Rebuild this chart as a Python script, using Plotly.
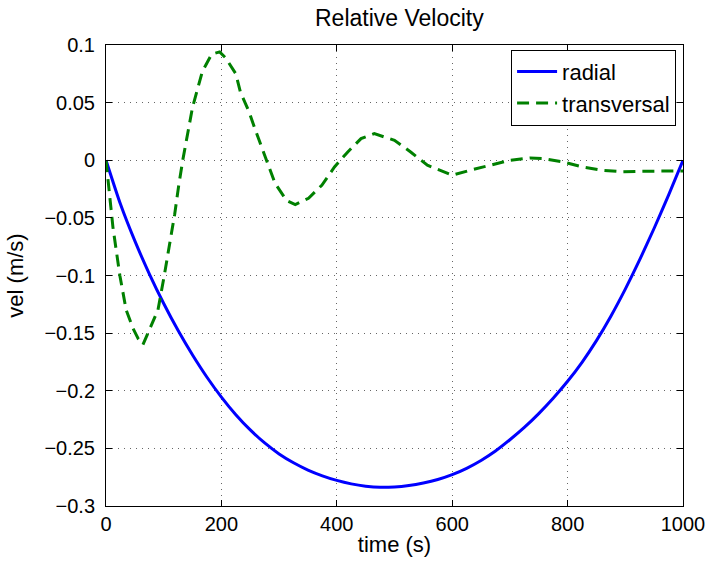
import plotly.graph_objects as go

# ---- data ----
radial_t = [0, 25, 50, 75, 100, 125, 150, 175, 200, 225, 250, 275, 300, 325, 350, 375,
            400, 425, 450, 475, 500, 525, 550, 575, 600, 625, 650, 675, 700, 725, 750,
            775, 800, 825, 850, 875, 900, 925, 950, 975, 1000]
radial_v = [0, -0.038, -0.070, -0.0985, -0.1243, -0.1478, -0.1690, -0.1883, -0.2055,
            -0.2208, -0.2340, -0.2453, -0.2548, -0.2625, -0.2688, -0.2738, -0.2778,
            -0.2808, -0.2828, -0.2838, -0.2835, -0.2822, -0.2800, -0.2770, -0.2728,
            -0.2673, -0.2605, -0.2523, -0.2425, -0.2318, -0.2198, -0.2065, -0.1918,
            -0.1753, -0.1565, -0.1353, -0.1118, -0.0863, -0.0590, -0.0303, 0]

trans_t = [0, 6, 12, 24, 35, 47, 56, 64, 73, 90, 101, 110, 119, 126, 133, 150, 167,
           183, 197, 207, 225, 233, 248, 259, 271, 282, 293, 313, 328, 351, 374, 396,
           419, 442, 465, 500, 528, 557, 600, 631, 666, 700, 735, 758, 792, 826, 861,
           895, 929, 964, 1000]
trans_v = [0, -0.030, -0.058, -0.100, -0.130, -0.146, -0.155, -0.160, -0.150, -0.130,
           -0.100, -0.075, -0.047, -0.022, 0.0, 0.046, 0.077, 0.092, 0.094, 0.089,
           0.075, 0.059, 0.042, 0.026, 0.010, -0.006, -0.020, -0.035, -0.0385, -0.033,
           -0.0217, -0.0058, 0.0072, 0.0188, 0.0231, 0.0173, 0.0072, -0.0043, -0.013,
           -0.0087, -0.0043, 0.0, 0.002, 0.0015, -0.0015, -0.0058, -0.0087, -0.010,
           -0.0095, -0.0093, -0.0093]

x_ticks = [0, 200, 400, 600, 800, 1000]
x_ticktext = ["0", "200", "400", "600", "800", "1000"]
y_ticks = [0.1, 0.05, 0, -0.05, -0.1, -0.15, -0.2, -0.25, -0.3]
y_ticktext = ["0.1", "0.05", "0", "\u22120.05", "\u22120.1", "\u22120.15",
              "\u22120.2", "\u22120.25", "\u22120.3"]

FONT = "Liberation Sans, Arial, sans-serif"

fig = go.Figure()
fig.add_trace(go.Scatter(x=radial_t, y=radial_v, mode="lines", name="radial",
                         line=dict(color="#0000ff", width=3, shape="spline", smoothing=0.6)))
fig.add_trace(go.Scatter(x=trans_t, y=trans_v, mode="lines", name="transversal",
                         line=dict(color="#008000", width=3, dash="12px,7px")))

axis_common = dict(
    showline=True, linecolor="black", linewidth=1, mirror="ticks",
    ticks="inside", ticklen=6, tickcolor="black",
    showgrid=True, gridcolor="rgba(0,0,0,0.6)", griddash="1px,5px", gridwidth=1,
    zeroline=False,
    tickfont=dict(family=FONT, size=20, color="black"),
)

fig.update_layout(
    width=717, height=567,
    margin=dict(l=106, r=29, t=45, b=61),
    paper_bgcolor="white", plot_bgcolor="white",
    title=dict(text="Relative Velocity", x=0.557, xanchor="center", y=0.968, yanchor="middle",
               font=dict(family=FONT, size=23, color="black")),
    xaxis=dict(range=[0, 1000], tickvals=x_ticks, ticktext=x_ticktext,
               title=dict(text="time (s)", font=dict(family=FONT, size=22, color="black"),
                          standoff=2),
               **axis_common),
    yaxis=dict(range=[-0.3, 0.1], tickvals=y_ticks, ticktext=y_ticktext,
               ticklabelstandoff=6,
               title=dict(text="vel (m/s)", font=dict(family=FONT, size=22, color="black"),
                          standoff=14),
               **axis_common),
    legend=dict(x=0.988, y=0.99, xanchor="right", yanchor="top",
                bgcolor="white", bordercolor="black", borderwidth=1,
                font=dict(family=FONT, size=22, color="black"),
                tracegroupgap=0, itemwidth=40),
    showlegend=True,
)

fig.write_html("out.html")
